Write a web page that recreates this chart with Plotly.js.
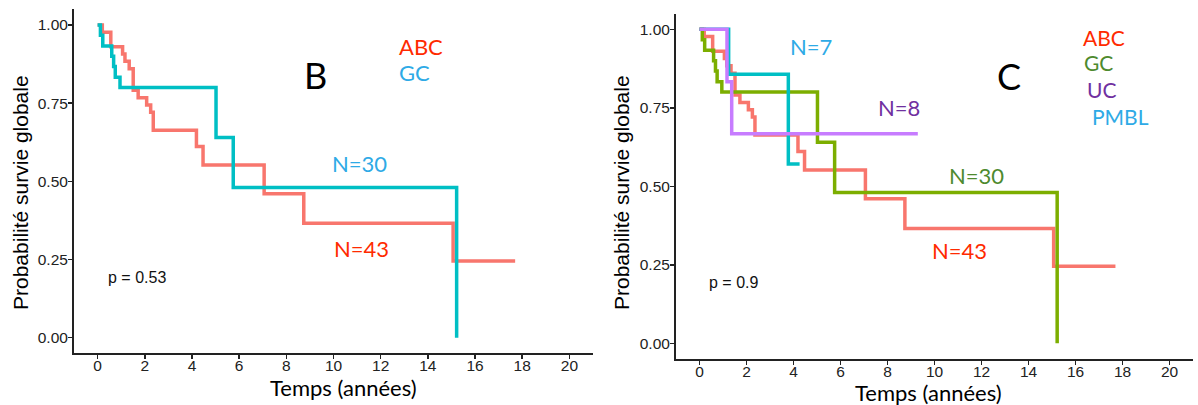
<!DOCTYPE html>
<html>
<head>
<meta charset="utf-8">
<script src="https://cdn.plot.ly/plotly-3.0.1.min.js"></script>
<style>html,body{margin:0;padding:0;background:#fff;}#chart{width:1198px;height:405px;}</style>
</head>
<body>
<div id="chart"></div>
<script>
// ---- Data ----
// Panel B / C : ABC (N=43)
const abcTime = [0, 0.2, 0.56, 1.06, 1.16, 1.34, 1.51, 1.72, 2.08, 2.25, 2.36, 4.19, 4.47, 7.06, 8.74, 15.07, 17.7];
const abcSurv = [1, 0.977, 0.930, 0.907, 0.884, 0.860, 0.791, 0.767, 0.744, 0.721, 0.663, 0.611, 0.552, 0.460, 0.366, 0.245, 0.245];
// GC (N=30)
const gcTime = [0, 0.12, 0.22, 0.6, 0.68, 0.75, 0.95, 5.02, 5.75, 15.22];
const gcSurv = [1, 0.967, 0.933, 0.9, 0.867, 0.833, 0.8, 0.64, 0.48, 0];
// PMBL (N=7)
const pmblTime = [0, 1.24, 3.78, 4.26];
const pmblSurv = [1, 0.857, 0.571, 0.571];
// UC (N=8)
const ucTime = [0, 1.17, 1.37, 9.29];
const ucSurv = [1, 0.833, 0.667, 0.667];

const xTicks = [0, 2, 4, 6, 8, 10, 12, 14, 16, 18, 20];
const yTicks = [0, 0.25, 0.5, 0.75, 1];
const yTickText = ["0.00", "0.25", "0.50", "0.75", "1.00"];

const colABC = "#F8766D", colGC2 = "#7CAE00", colTeal = "#00BFC4", colUC = "#C77CFF";
const LW = 3.5;

function km(x, y, color, xa, ya) {
  return {x: x, y: y, type: "scatter", mode: "lines", line: {shape: "hv", color: color, width: LW},
          xaxis: xa, yaxis: ya, hoverinfo: "skip", showlegend: false};
}

const traces = [
  km(abcTime, abcSurv, colABC, "x", "y"),
  km(gcTime, gcSurv, colTeal, "x", "y"),
  km(abcTime, abcSurv, colABC, "x2", "y2"),
  km(gcTime, gcSurv, colGC2, "x2", "y2"),
  km(pmblTime, pmblSurv, colTeal, "x2", "y2"),
  km(ucTime, ucSurv, colUC, "x2", "y2")
];

const tickFont = {family: "Liberation Sans", size: 15.5, color: "#222"};
function xax(domain, anchor) {
  return {domain: domain, anchor: anchor, range: [-1, 21], tickvals: xTicks, ticktext: xTicks.map(String),
          tickmode: "array", ticks: "outside", ticklen: 4,
          tickwidth: 1.5, tickcolor: "#222", showline: true, linecolor: "#222", linewidth: 2,
          ticklabelstandoff: -7,
          showgrid: false, zeroline: false, tickfont: tickFont, fixedrange: true};
}
function yax(domain, anchor) {
  return {domain: domain, anchor: anchor, range: [-0.05, 1.05], tickvals: yTicks, ticktext: yTickText,
          tickmode: "array", ticks: "outside", ticklen: 4, tickwidth: 1.5, tickcolor: "#222", showline: true, linecolor: "#222",
          ticklabelstandoff: -3,
          linewidth: 2, showgrid: false, zeroline: false, tickfont: tickFont, fixedrange: true};
}

const red = "#FF2A00", blue = "#2EAAE6", green = "#4E8A2E", purple = "#7030A0";
const lab = "Lato, Carlito, sans-serif";
function ann(text, x, y, color, size, family, xanchor, extra) {
  return Object.assign({text: text, x: x, y: y, xref: "paper", yref: "paper", showarrow: false,
    xanchor: xanchor || "center", yanchor: "middle", font: {family: family || lab, size: size, color: color}}, extra || {});
}
const W = 1198, H = 405;
function px(x) { return x / W; }
function py(y) { return 1 - y / H; }
const sans = "Liberation Sans, Arial, sans-serif";

const annotations = [
  // panel B
  ann("B", px(315), py(75), "#000", 36),
  ann("ABC", px(397), py(47), red, 22, lab, "left"),
  ann("GC", px(397), py(72), blue, 22, lab, "left"),
  ann("N=30", px(359.5), py(163.5), blue, 22),
  ann("N=43", px(361.7), py(248), red, 22),
  ann("p = 0.53", px(106), py(277), "#111", 16, sans, "left"),
  ann("Probabilité survie globale", px(20), py(193), "#000", 21, sans, "center", {textangle: -90}),
  ann("Temps (années)", px(343), py(387), "#000", 22, lab),
  // panel C
  ann("C", px(1009), py(76), "#000", 36),
  ann("ABC", px(1081), py(37.5), red, 21, lab, "left"),
  ann("GC", px(1081.5), py(62.5), green, 21, lab, "left"),
  ann("UC", px(1085), py(89), purple, 21, lab, "left"),
  ann("PMBL", px(1090), py(116), blue, 21, lab, "left"),
  ann("N=7", px(810.5), py(47), blue, 22),
  ann("N=8", px(898.5), py(107.5), purple, 22),
  ann("N=30", px(976.7), py(175.5), green, 22),
  ann("N=43", px(959.3), py(250), red, 22),
  ann("p = 0.9", px(707), py(282), "#111", 16, sans, "left"),
  ann("Probabilité survie globale", px(621), py(193), "#000", 21, sans, "center", {textangle: -90}),
  ann("Temps (années)", px(928), py(392), "#000", 22, lab)
];

const layout = {
  width: W, height: H, margin: {l: 0, r: 0, t: 0, b: 0}, paper_bgcolor: "#fff", plot_bgcolor: "#fff",
  showlegend: false,
  xaxis: xax([74 / W, 593 / W], "y"),
  yaxis: yax([1 - 353.3 / H, 1 - 9.3 / H], "x"),
  xaxis2: xax([676 / W, 1193 / W], "y2"),
  yaxis2: yax([1 - 359 / H, 1 - 13.6 / H], "x2"),
  annotations: annotations
};

Plotly.newPlot("chart", traces, layout, {displayModeBar: false, staticPlot: true});
</script>
</body>
</html>
